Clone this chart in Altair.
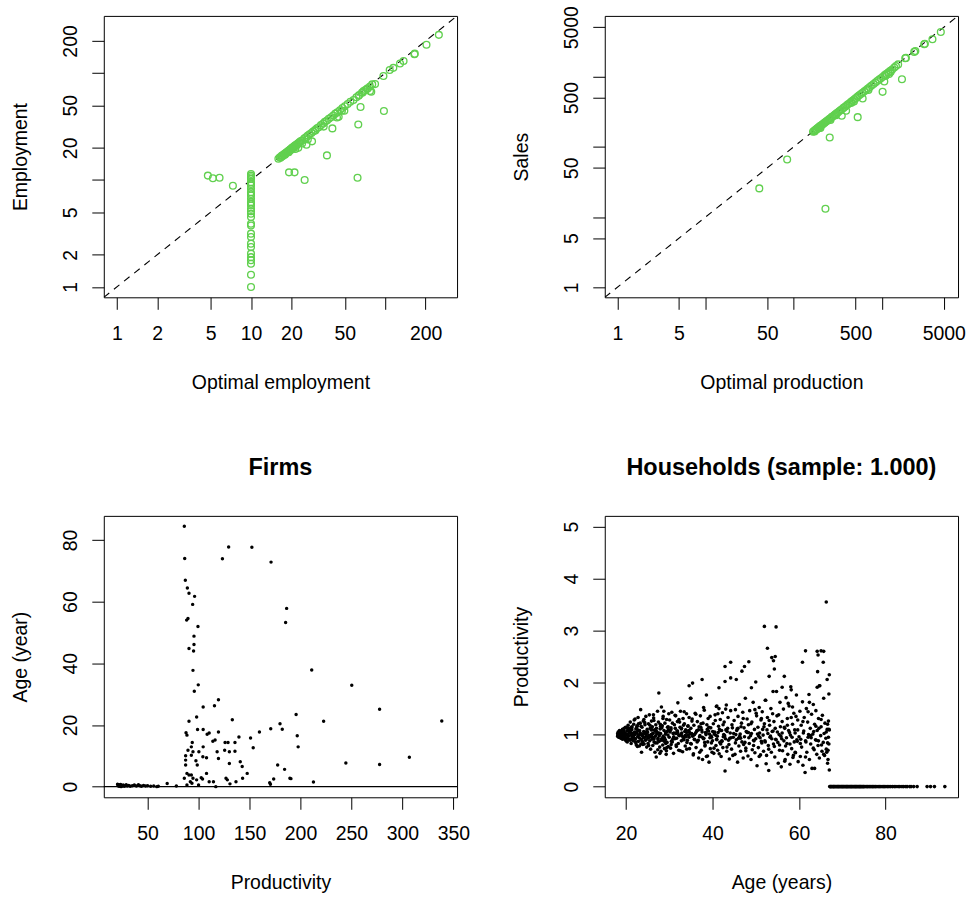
import altair as alt
import pandas as pd

FONT = "Liberation Sans"
GREEN = "#61D04F"
W, H = 354, 282

# ---------------- Firms: optimal vs. actual employment ----------------
# firms at the minimum optimal size (10)
min_size_emp = [1.0, 1.3, 1.65, 1.78, 1.9, 2.05, 2.36, 2.54, 2.93, 3.15,
                3.76, 3.9, 4.5, 4.84, 5.1, 5.39, 5.78, 6.0, 6.21, 6.68,
                7.17, 7.4, 7.7, 8.28, 8.89, 9.2, 9.55, 10.26, 10.6, 11.0,
                11.4]
opt_emp = [4.77, 5.2, 5.83, 7.33,
           16.0, 16.4, 16.8, 17.0, 17.2, 17.5, 17.8, 18.0, 18.2, 18.5,
           18.8, 19.0, 19.3, 19.6, 19.9, 20.2, 20.5, 20.8, 21.2, 21.5,
           22.0, 22.4, 17.3, 18.6, 19.5, 20.6, 21.8, 23.0, 23.5, 24.2,
           25.0, 25.8, 26.5, 27.3, 28.2, 29.0, 30.0, 31.0, 32.0, 33.2,
           34.5, 35.5, 36.8, 38.0, 39.5, 41.0, 42.5, 44.0, 46.0, 48.0,
           50.0, 52.5, 55.0, 58.0, 61.0, 64.0, 67.0, 69.0, 71.0, 74.0,
           77.0, 80.0, 84.0, 78.7, 73.0, 68.0, 63.4, 97.0, 108.0, 129.0,
           137.0, 165.0, 166.0, 203.0, 251.0, 115.0,
           19.2, 21.1, 25.1, 62.2, 36.8, 63.0, 65.5, 97.8, 40.4, 28.5,
           25.9, 21.4, 49.6, 45.0, 34.8, 30.2, 24.0, 26.5, 22.5, 43.7,
           47.6, 77.0, 16.6, 17.9, 19.1, 20.1, 21.0, 22.8]
emp = [11.0, 10.4, 10.5, 8.83,
       15.8, 16.3, 16.5, 16.9, 16.8, 17.3, 17.6, 17.5, 18.0, 18.3,
       18.4, 18.8, 19.0, 19.4, 19.5, 20.0, 20.1, 20.6, 20.9, 21.2,
       21.6, 22.0, 16.9, 18.1, 18.9, 19.8, 21.0, 22.6, 23.2, 23.5,
       24.6, 25.3, 26.1, 26.8, 27.5, 28.4, 29.4, 30.5, 31.2, 32.6,
       33.8, 35.0, 36.0, 37.4, 38.6, 40.2, 41.8, 43.0, 45.0, 47.2,
       49.0, 51.5, 54.0, 56.0, 59.5, 62.5, 65.5, 68.0, 69.5, 72.0,
       75.0, 78.5, 79.0, 67.0, 71.0, 66.0, 61.4, 94.0, 107.0, 123.0,
       130.0, 150.0, 152.0, 184.0, 228.0, 112.0,
       11.8, 11.8, 10.0, 10.5, 17.0, 33.1, 48.2, 44.2, 30.4, 23.0,
       21.4, 19.5, 44.5, 39.0, 31.6, 29.0, 22.0, 24.0, 20.0, 38.5,
       44.5, 68.0, 16.2, 17.2, 18.2, 19.3, 20.3, 22.1]

# ---------------- Firms: optimal production vs. sales ----------------
opt_prod = [40.6, 84.0, 228.0, 255.0, 529.0, 1013.0, 1679.0, 1059.0, 349.0, 602.0,
            391.0,
            165, 170, 174, 178, 182, 186, 190, 194, 198, 203,
            208, 213, 218, 224, 230, 236, 242, 248, 255, 262,
            270, 278, 286, 295, 305, 315, 326, 338, 350, 365,
            380, 395, 410, 428, 445, 465, 485, 505, 528, 550,
            575, 600, 630, 660, 690, 725, 760, 800, 840, 880,
            925, 970, 1020, 1070, 1120, 1180, 1240, 1300, 1374, 1436,
            1520, 1829, 1862, 2312, 2380, 3000, 3053, 3720, 4627,
            200, 260, 300, 450, 480, 700, 1100, 1200, 1250, 172, 181, 192]
sales = [25.5, 65.8, 13.1, 135.0, 263.0, 603.0, 912.0, 844.0, 275.0, 484.0,
         324.0,
         163, 168, 171, 176, 178, 184, 187, 191, 196, 199,
         205, 208, 215, 219, 226, 232, 236, 244, 250, 256,
         265, 271, 280, 288, 298, 306, 318, 330, 341, 356,
         370, 386, 400, 415, 434, 452, 473, 490, 515, 537,
         560, 584, 612, 640, 672, 704, 740, 776, 815, 858,
         898, 942, 990, 1040, 1085, 1140, 1200, 1250, 1340, 1400,
         1480, 1812, 1830, 2228, 2290, 2866, 2900, 3377, 4286,
         185, 240, 280, 420, 440, 640, 1020, 1080, 1150, 165, 176, 183]

# ---------------- Firms: productivity and age ----------------
firm_prod = [86.0, 86.4, 87.0, 89.0, 90.6, 96.1, 94.2, 88.3, 89.6, 99.4,
             95.5, 95.5, 90.6, 95.1, 94.5, 99.7, 95.8, 123.4, 129.5, 152.3,
             171.1, 186.4, 185.4, 211.0, 250.3, 277.6, 338.6, 222.7, 195.7, 196.8,
             197.7, 179.9, 182.1, 170.8, 159.7, 153.6, 151.0, 147.7, 143.2, 142.8,
             140.9, 139.6, 135.7, 135.7, 133.1, 136.7, 130.2, 130.2, 128.9, 126.0,
             125.6, 126.9, 128.2, 130.8, 119.5, 115.6, 104.5, 119.5, 116.2, 114.0,
             118.2, 119.5, 110.4, 108.4, 104.5, 99.0, 104.5, 104.2, 107.8, 100.3,
             97.4, 98.7, 98.1, 90.6, 87.7, 88.6, 93.8, 92.9, 94.5, 89.6,
             92.9, 87.3, 87.3, 87.3, 86.0, 88.6, 90.6, 92.9, 94.5, 91.9,
             93.5, 98.1, 100.0, 102.6, 103.9, 107.8, 110.4, 114.6, 116.9, 88.6,
             244.5, 277.6, 306.8, 212.7, 190.6, 189.6, 184.4, 177.6, 173.7, 169.8,
             170.5,
             20.5, 21.0, 21.5, 22.0, 22.5, 23.0, 23.5, 24.0, 24.5, 25.0,
             26.0, 27.0, 28.0, 29.0, 30.0, 31.5, 33.0, 35.0, 37.0, 39.0,
             41.0, 42.5, 44.0, 46.0, 48.0, 50.0, 53.0, 56.0, 59.0, 60.5,
             69.2, 78.2]
firm_age = [84.4, 74.0, 66.9, 64.4, 62.7, 61.7, 59.1, 54.0, 54.5, 51.9,
            48.8, 46.1, 44.8, 44.0, 37.7, 33.0, 30.9, 73.9, 77.7, 77.6,
            72.8, 57.8, 53.2, 37.8, 32.9, 25.1, 21.3, 21.2, 23.4, 16.5,
            12.9, 20.4, 18.6, 18.8, 17.7, 12.6, 15.8, 4.3, 2.7, 6.5,
            8.1, 16.1, 14.3, 11.5, 21.7, 1.6, 7.5, 11.3, 14.3, 14.3,
            11.8, 2.7, 2.2, 0.9, 28.2, 26.2, 25.8, 17.7, 15.1, 14.7,
            11.3, 9.1, 17.4, 17.0, 18.5, 18.5, 12.9, 9.7, 9.4, 11.3,
            8.4, 7.0, 22.6, 21.2, 17.5, 16.7, 14.3, 12.9, 11.3, 11.8,
            10.2, 10.0, 8.6, 7.0, 2.7, 4.3, 3.8, 3.8, 2.7, 1.6,
            1.1, 2.2, 0.5, 2.9, 2.5, 4.3, 1.6, 1.6, 0.0, 0.5,
            7.7, 7.2, 9.5, 1.5, 2.6, 2.7, 5.6, 7.0, 2.5, 1.3,
            0.8,
            0.8, 0.3, 0.6, 0.1, 0.5, 0.2, 0.7, 0.0, 0.4, 0.2,
            0.5, 0.1, 0.3, 0.6, 0.2, 0.4, 0.1, 0.3, 0.5, 0.2,
            0.6, 0.3, 0.1, 0.4, 0.2, 0.3, 0.1, 0.2, 0.0, 0.1,
            1.0, 0.2]

# ---------------- Households: age and productivity ----------------
hh_age_18 = [18.1, 18.1, 18.2, 18.3, 18.4, 18.5, 18.6, 18.7, 18.8, 18.9,
             19.0, 19.1, 19.2, 19.3, 19.4, 19.5, 19.6, 19.7, 19.8, 19.9,
             18.1, 18.3, 18.5, 18.7, 18.9, 19.1, 19.3, 19.5, 19.7, 19.9,
             18.2, 18.4, 18.6, 18.8, 19.0, 19.2, 19.4, 19.6, 19.8, 20.0]
hh_prod_18 = [1.02, 0.98, 1.05, 0.95, 1.01, 1.08, 0.97, 1.03, 0.93, 1.00,
              1.06, 0.96, 1.10, 0.99, 0.92, 1.04, 1.12, 0.95, 1.01, 0.90,
              0.97, 1.04, 0.99, 1.07, 1.02, 0.94, 1.00, 1.09, 0.96, 1.14,
              1.00, 0.96, 1.03, 0.98, 1.01, 0.91, 1.06, 0.99, 1.03, 0.88]

hh_age_20 = [20.1, 20.2, 20.3, 20.4, 20.5, 20.6, 20.7, 20.8, 20.9, 21.0,
             21.1, 21.2, 21.3, 21.4, 21.5, 21.6, 21.7, 21.8, 21.9, 22.0,
             22.1, 22.2, 22.3, 22.4, 22.5, 22.6, 22.7, 22.8, 22.9, 23.0,
             23.1, 23.2, 23.3, 23.4, 23.5, 23.6, 23.7, 23.8, 23.9, 24.0,
             24.1, 24.2, 24.3, 24.4, 24.5, 24.6, 24.7, 24.8, 24.9, 20.3,
             20.7, 21.1, 21.5, 21.9, 22.3, 22.7, 23.1, 23.5, 23.9, 24.3,
             24.7, 20.5, 21.3, 22.1, 22.9, 23.7, 24.5, 21.7, 22.5, 23.3]
hh_prod_20 = [0.94, 1.07, 0.86, 1.01, 1.18, 0.97, 1.12, 0.90, 1.04, 1.24,
              0.99, 0.83, 1.09, 1.15, 0.95, 1.02, 0.88, 1.20, 0.93, 1.05,
              1.30, 0.92, 1.11, 0.80, 1.03, 1.17, 0.96, 1.33, 0.87, 1.08,
              0.78, 1.00, 1.22, 1.48, 0.91, 0.66, 1.14, 0.98, 0.85, 1.26,
              1.06, 0.82, 0.95, 1.19, 0.89, 1.35, 1.01, 0.76, 1.10, 1.13,
              0.90, 1.04, 0.99, 1.28, 0.84, 1.07, 0.94, 1.16, 0.81, 1.02,
              0.97, 1.10, 0.92, 1.00, 1.21, 0.88, 1.05, 0.96, 1.12, 1.03]

hh_age_25 = [25.0, 25.1, 25.2, 25.3, 25.4, 25.5, 25.6, 25.7, 25.8, 25.9,
             26.0, 26.1, 26.2, 26.3, 26.4, 26.5, 26.6, 26.7, 26.8, 26.9,
             27.0, 27.1, 27.2, 27.3, 27.4, 27.5, 27.6, 27.7, 27.8, 27.9,
             28.0, 28.1, 28.2, 28.3, 28.4, 28.5, 28.6, 28.7, 28.8, 28.9,
             29.0, 29.1, 29.2, 29.3, 29.4, 29.5, 29.6, 29.7, 29.8, 29.9,
             25.3, 25.9, 26.5, 27.1, 27.7, 28.3, 28.9, 29.5, 25.6, 26.2,
             26.8, 27.4, 28.0, 28.6, 29.2, 29.8, 25.1, 26.0, 27.2, 28.4]
hh_prod_25 = [1.05, 0.83, 1.21, 0.95, 1.38, 0.88, 1.12, 0.72, 1.00, 1.26,
              0.91, 1.15, 0.79, 1.03, 1.32, 0.86, 1.09, 0.66, 0.97, 1.19,
              0.57, 1.06, 0.84, 1.45, 0.93, 1.24, 1.80, 0.98, 0.76, 1.11,
              1.02, 0.68, 1.53, 0.89, 1.17, 0.80, 1.35, 0.95, 1.08, 0.73,
              1.22, 0.90, 1.04, 0.62, 1.29, 0.85, 1.14, 0.99, 0.77, 1.40,
              0.98, 1.10, 0.92, 1.01, 0.87, 1.13, 0.94, 1.06, 0.96, 1.02,
              1.07, 0.90, 1.16, 0.97, 0.83, 1.09, 0.93, 1.00, 1.04, 0.91]

hh_age_30 = [30.0, 30.1, 30.3, 30.4, 30.6, 30.7, 30.9, 31.0, 31.2, 31.3,
             31.5, 31.6, 31.8, 31.9, 32.0, 32.2, 32.3, 32.5, 32.6, 32.8,
             32.9, 33.1, 33.2, 33.4, 33.5, 33.7, 33.8, 34.0, 34.1, 34.3,
             34.4, 34.6, 34.7, 34.9, 30.2, 30.8, 31.4, 32.1, 32.7, 33.3,
             33.9, 34.5, 30.5, 31.1, 31.7, 32.4, 33.0, 33.6, 34.2, 34.8,
             30.4, 31.0, 31.6, 32.2, 32.8, 33.4, 34.0, 34.6, 31.9, 33.7]
hh_prod_30 = [0.95, 1.28, 0.74, 1.10, 1.43, 0.86, 1.02, 0.64, 1.19, 0.92,
              1.36, 0.80, 1.07, 1.25, 1.61, 0.70, 0.98, 1.14, 1.45, 0.88,
              1.03, 0.67, 1.31, 0.94, 1.21, 0.78, 1.09, 1.40, 0.85, 1.16,
              0.99, 1.33, 0.73, 1.70, 1.05, 0.91, 1.12, 0.83, 1.00, 1.18,
              0.96, 1.08, 0.87, 1.03, 0.93, 1.24, 0.97, 1.06, 0.89, 1.01,
              1.13, 0.94, 1.02, 0.99, 1.11, 0.90, 1.04, 0.95, 1.07, 0.98]

hh_age_35 = [35.0, 35.1, 35.3, 35.4, 35.6, 35.7, 35.9, 36.0, 36.2, 36.3,
             36.5, 36.6, 36.8, 36.9, 37.1, 37.2, 37.4, 37.5, 37.7, 37.8,
             38.0, 38.1, 38.3, 38.4, 38.6, 38.7, 38.9, 39.0, 39.2, 39.3,
             39.5, 39.6, 39.8, 39.9, 35.2, 35.8, 36.4, 37.0, 37.6, 38.2,
             38.8, 39.4, 35.5, 36.1, 36.7, 37.3, 37.9, 38.5, 39.1, 39.7,
             34.6, 35.4, 37.6, 38.6, 35.0]
hh_prod_35 = [1.12, 0.82, 1.30, 0.97, 0.63, 1.18, 0.90, 1.41, 0.75, 1.06,
              1.25, 0.88, 0.55, 1.15, 0.98, 1.36, 0.70, 1.09, 0.52, 1.22,
              0.93, 1.47, 0.80, 1.04, 0.58, 1.19, 0.86, 1.31, 0.47, 1.01,
              0.73, 1.13, 0.95, 0.66, 1.02, 0.91, 1.08, 0.96, 1.05, 0.85,
              1.10, 0.94, 0.99, 1.03, 0.89, 1.14, 0.92, 1.00, 1.07, 0.97,
              1.94, 1.99, 2.06, 1.76, 1.70]

hh_age_40 = [40.0, 40.2, 40.3, 40.5, 40.6, 40.8, 40.9, 41.1, 41.2, 41.4,
             41.5, 41.7, 41.8, 42.0, 42.1, 42.3, 42.4, 42.6, 42.7, 42.9,
             43.0, 43.2, 43.3, 43.5, 43.6, 43.8, 43.9, 44.1, 44.2, 44.4,
             44.5, 44.7, 44.8, 40.4, 41.0, 41.6, 42.2, 42.8, 43.4, 44.0,
             44.6, 40.7, 41.3, 41.9, 42.5, 43.1, 43.7, 44.3, 44.9, 41.5,
             42.9, 44.2, 42.9, 44.2, 41.0]
hh_prod_40 = [0.88, 1.21, 0.64, 1.05, 1.38, 0.79, 1.54, 0.97, 0.70, 1.16,
              1.50, 0.85, 1.29, 0.58, 1.08, 1.42, 0.75, 1.00, 1.24, 0.30,
              0.92, 1.57, 0.68, 1.12, 1.33, 0.81, 0.53, 1.03, 1.46, 0.72,
              1.19, 0.60, 0.95, 1.01, 0.90, 1.10, 0.87, 0.98, 1.06, 0.93,
              1.13, 0.99, 1.04, 0.82, 0.96, 1.09, 0.89, 0.94, 1.02, 1.90,
              2.31, 2.39, 2.02, 2.09, 1.55]

hh_age_45 = [45.0, 45.2, 45.3, 45.5, 45.6, 45.8, 45.9, 46.1, 46.2, 46.4,
             46.5, 46.7, 46.8, 47.0, 47.1, 47.3, 47.4, 47.6, 47.7, 47.9,
             48.0, 48.2, 48.3, 48.5, 48.6, 48.8, 48.9, 49.1, 49.2, 49.4,
             49.5, 49.7, 49.8, 45.4, 46.0, 46.6, 47.2, 47.8, 48.4, 49.0,
             49.6, 45.7, 46.3, 47.5, 48.1, 45.5, 46.8, 47.4, 48.4, 49.0]
hh_prod_45 = [1.27, 0.62, 1.48, 0.90, 1.08, 0.47, 1.35, 0.78, 1.58, 1.01,
              0.68, 1.22, 0.86, 1.43, 0.55, 1.13, 0.96, 1.70, 0.74, 1.05,
              1.30, 0.59, 1.19, 0.83, 1.46, 0.98, 0.52, 1.24, 0.71, 1.62,
              0.89, 1.10, 0.65, 1.00, 0.93, 1.15, 0.81, 1.06, 0.94, 1.02,
              0.88, 1.11, 0.97, 0.85, 1.04, 2.06, 2.22, 2.31, 2.40, 1.90]

hh_age_50 = [50.0, 50.2, 50.3, 50.5, 50.6, 50.8, 50.9, 51.1, 51.2, 51.4,
             51.5, 51.7, 51.8, 52.0, 52.1, 52.3, 52.4, 52.6, 52.7, 52.9,
             53.0, 53.2, 53.3, 53.5, 53.6, 53.8, 53.9, 54.1, 54.2, 54.4,
             54.5, 54.7, 54.8, 50.4, 51.0, 51.6, 52.2, 52.8, 53.4, 54.0,
             54.6, 50.0, 52.0, 52.7, 53.1, 53.7, 54.1, 54.3, 54.5, 54.7,
             52.2, 54.0, 53.0, 51.3, 50.8]
hh_prod_50 = [0.92, 1.36, 0.40, 1.14, 0.75, 1.52, 1.03, 0.61, 1.28, 0.84,
              1.44, 0.99, 0.68, 1.21, 0.88, 1.66, 0.44, 1.09, 1.33, 0.79,
              0.31, 1.18, 0.95, 1.50, 0.66, 1.06, 1.40, 0.82, 1.25, 0.57,
              1.12, 0.90, 1.83, 1.01, 0.94, 1.10, 0.86, 1.02, 0.97, 1.07,
              0.91, 2.01, 3.08, 2.66, 2.12, 2.48, 2.42, 2.26, 2.50, 3.07,
              1.66, 1.83, 0.72, 1.31, 0.58]

hh_age_55 = [55.0, 55.2, 55.3, 55.5, 55.6, 55.8, 55.9, 56.1, 56.2, 56.4,
             56.5, 56.7, 56.8, 57.0, 57.1, 57.3, 57.4, 57.6, 57.7, 57.9,
             58.0, 58.2, 58.3, 58.5, 58.6, 58.8, 58.9, 59.1, 59.2, 59.4,
             59.5, 59.7, 59.8, 55.4, 56.0, 56.6, 57.2, 57.8, 58.4, 59.0,
             59.6, 56.6, 56.1, 58.1, 57.5, 55.7, 58.7, 59.3, 56.9, 55.1]
hh_prod_55 = [1.05, 0.45, 1.38, 0.80, 1.62, 0.97, 0.38, 1.25, 0.69, 1.49,
              0.88, 1.12, 0.52, 1.71, 0.94, 1.31, 0.62, 1.08, 1.55, 0.43,
              0.99, 1.86, 0.73, 1.20, 0.56, 1.41, 0.86, 1.03, 0.65, 1.76,
              0.90, 1.28, 0.48, 1.00, 0.92, 1.14, 0.83, 1.04, 0.95, 1.09,
              0.87, 2.12, 1.91, 1.92, 1.60, 1.15, 0.60, 1.35, 0.78, 0.85]

hh_age_60 = [60.0, 60.2, 60.3, 60.5, 60.6, 60.8, 60.9, 61.1, 61.2, 61.4,
             61.5, 61.7, 61.8, 62.0, 62.1, 62.3, 62.4, 62.6, 62.7, 62.9,
             63.0, 63.2, 63.3, 63.5, 63.6, 63.8, 63.9, 64.1, 64.2, 64.4,
             64.5, 64.7, 64.8, 65.0, 65.1, 65.3, 65.4, 65.6, 65.7, 65.9,
             66.0, 66.2, 66.3, 66.5, 66.6, 66.8, 66.9, 60.4, 61.0, 61.6,
             62.2, 62.8, 63.4, 64.0, 64.6, 65.2, 65.8, 66.4, 66.7, 66.9,
             61.5, 60.8, 64.2, 65.1, 65.7, 64.4, 65.6, 66.3, 67.0, 66.5,
             64.7, 64.2, 66.9, 63.6, 67.0, 64.3, 66.6, 66.8, 67.0, 66.7]
hh_prod_60 = [0.96, 1.45, 0.58, 1.18, 0.76, 1.63, 0.41, 1.07, 1.33, 0.27,
              0.88, 1.50, 0.66, 1.24, 0.95, 1.77, 0.52, 1.12, 0.82, 1.39,
              0.35, 1.01, 1.58, 0.71, 1.20, 0.90, 1.46, 0.62, 1.08, 0.79,
              1.31, 0.55, 1.94, 0.98, 1.15, 0.68, 1.37, 0.85, 1.70, 0.60,
              1.22, 0.93, 0.72, 1.10, 0.45, 1.26, 0.82, 0.91, 1.03, 0.86,
              1.00, 0.94, 1.06, 0.89, 1.12, 0.80, 1.02, 0.66, 0.70, 1.10,
              2.61, 2.39, 2.60, 2.61, 2.60, 2.53, 2.39, 3.55, 2.15, 2.06,
              1.94, 1.91, 1.78, 0.35, 0.32, 2.21, 1.20, 0.95, 1.09, 0.52]

# further working-age households filling the dense core
hh_age_core_a = [20.15, 20.45, 20.75, 21.05, 21.35, 21.65, 21.95, 22.25, 22.55, 22.85,
                 23.15, 23.45, 23.75, 24.05, 24.35, 24.65, 24.95, 25.25, 25.55, 25.85,
                 26.15, 26.45, 26.75, 27.05, 27.35, 27.65, 27.95, 28.25, 28.55, 28.85,
                 29.15, 29.45, 29.75, 26.35, 27.85, 24.15, 22.65, 21.25, 28.75, 29.35]
hh_prod_core_a = [1.00, 0.93, 1.06, 0.89, 1.11, 0.97, 1.03, 0.86, 1.16, 0.99,
                  1.08, 0.82, 1.01, 0.94, 1.23, 0.90, 1.04, 0.79, 1.18, 1.09,
                  0.95, 1.27, 0.84, 1.12, 0.71, 1.03, 1.20, 0.92, 1.31, 0.87,
                  1.01, 0.75, 1.15, 1.38, 0.64, 1.29, 0.77, 1.14, 1.45, 0.69]

hh_age_core_b = [30.15, 30.45, 30.75, 31.05, 31.35, 31.65, 31.95, 32.25, 32.55, 32.85,
                 33.15, 33.45, 33.75, 34.05, 34.35, 34.65, 34.95, 35.25, 35.55, 35.85,
                 36.15, 36.45, 36.75, 37.05, 37.35, 37.65, 37.95, 38.25, 38.55, 38.85,
                 39.15, 39.45, 39.75, 40.05, 40.35, 40.65, 40.95, 41.25, 41.55, 41.85,
                 42.15, 42.45, 42.75, 43.05, 43.35]
hh_prod_core_b = [1.07, 0.81, 1.22, 0.96, 1.37, 0.77, 1.04, 1.29, 0.69, 1.12,
                  0.90, 1.44, 0.98, 0.72, 1.17, 1.05, 0.83, 1.26, 0.61, 1.00,
                  1.39, 0.86, 1.09, 0.66, 1.21, 0.95, 1.52, 0.78, 1.03, 0.59,
                  1.14, 1.35, 0.84, 1.06, 0.74, 1.27, 0.91, 1.40, 0.63, 1.08,
                  0.88, 1.19, 0.97, 1.49, 0.76]

hh_age_core_c = [45.3, 45.9, 46.5, 47.1, 47.7, 48.3, 48.9, 49.5, 50.1, 50.7,
                 51.3, 51.9, 52.5, 53.1, 53.7, 54.3, 54.9, 55.5, 56.1, 56.7,
                 57.3, 57.9, 58.5, 59.1, 59.7, 60.3, 60.9, 61.5, 62.1, 62.7,
                 63.3, 63.9, 64.5, 65.1, 65.7, 66.3, 66.6, 62.4, 58.2, 49.8]
hh_prod_core_c = [0.84, 1.12, 0.93, 1.31, 0.69, 1.04, 1.21, 0.79, 1.41, 0.97,
                  0.87, 1.15, 0.60, 1.27, 0.92, 0.77, 1.36, 0.70, 1.03, 0.49,
                  1.18, 0.82, 1.53, 0.66, 1.09, 0.83, 1.25, 0.57, 1.44, 0.98,
                  0.74, 1.16, 0.88, 1.29, 0.62, 1.05, 0.84, 1.62, 1.33, 1.48]

# retired households (productivity 0)
retired_age = [67.1, 67.2, 67.3, 67.5, 67.6, 67.8, 67.9, 68.0, 68.2, 68.3,
               68.5, 68.6, 68.8, 68.9, 69.1, 69.2, 69.4, 69.5, 69.7, 69.8,
               70.0, 70.1, 70.3, 70.4, 70.6, 70.7, 70.9, 71.0, 71.2, 71.3,
               71.5, 71.6, 71.8, 71.9, 72.1, 72.2, 72.4, 72.5, 72.7, 72.8,
               73.0, 73.1, 73.3, 73.4, 73.6, 73.7, 73.9, 74.0, 74.2, 74.3,
               74.5, 74.6, 74.8, 74.9, 75.1, 75.3, 75.6, 75.8, 76.0, 76.3,
               76.5, 76.8, 77.0, 77.2, 77.5, 77.7, 78.0, 78.3, 78.6, 78.9,
               79.2, 79.5, 79.8, 80.1, 80.5, 80.8, 81.2, 81.6, 82.0, 82.4,
               82.9, 83.3, 83.8, 84.2, 84.7, 85.0, 85.6, 85.9, 86.5, 87.3,
               89.6, 90.4, 91.3, 93.7]

hh_ages, hh_prods = [], []
for a, p in [(hh_age_18, hh_prod_18), (hh_age_20, hh_prod_20), (hh_age_25, hh_prod_25),
             (hh_age_30, hh_prod_30), (hh_age_35, hh_prod_35), (hh_age_40, hh_prod_40),
             (hh_age_45, hh_prod_45), (hh_age_50, hh_prod_50), (hh_age_55, hh_prod_55),
             (hh_age_60, hh_prod_60), (hh_age_core_a, hh_prod_core_a),
             (hh_age_core_b, hh_prod_core_b), (hh_age_core_c, hh_prod_core_c)]:
    for x, y in zip(a, p, strict=True):
        hh_ages.append(x)
        hh_prods.append(y)
hh_ages += retired_age
hh_prods += [0.0] * len(retired_age)

# ---------------- helpers ----------------
LABEL_SIZE = 19.5


def make_axis(title, values, orient, hidden=(), fmt="d"):
    kw = dict(title=title, values=values, format=fmt, labelOverlap=False,
              labelFlush=False)
    if hidden:
        cond = " || ".join(f"datum.value == {v}" for v in hidden)
        kw["labelExpr"] = f"({cond}) ? '' : datum.label"
    if orient == "left":
        kw.update(labelAngle=270, labelAlign="center", labelBaseline="bottom",
                  labelPadding=11, titlePadding=30)
    else:
        kw.update(labelAngle=0, labelAlign="center", labelBaseline="top",
                  labelPadding=15, titlePadding=31)
    return alt.Axis(**kw)


def log_panel(xs, ys, dom, ticks, x_hidden, y_hidden, xtitle, ytitle):
    df = pd.DataFrame({"a": xs, "b": ys})
    diag = pd.DataFrame({"a": dom, "b": dom})
    xsc = alt.Scale(type="log", domain=dom, nice=False)
    ysc = alt.Scale(type="log", domain=dom, nice=False)
    pts = alt.Chart(df).mark_point(
        shape="circle", filled=False, color=GREEN, size=46, strokeWidth=1.35, opacity=1
    ).encode(
        x=alt.X("a:Q", scale=xsc, axis=make_axis(xtitle, ticks, "bottom", x_hidden)),
        y=alt.Y("b:Q", scale=ysc, axis=make_axis(ytitle, ticks, "left", y_hidden)),
    )
    line = alt.Chart(diag).mark_line(
        color="black", strokeDash=[7, 6], strokeWidth=1.1, clip=True
    ).encode(x=alt.X("a:Q", scale=xsc), y=alt.Y("b:Q", scale=ysc))
    return alt.layer(line, pts).properties(width=W, height=H)


p1 = log_panel(opt_emp + [10.0] * len(min_size_emp), emp + min_size_emp,
               [0.80, 343.0], [1, 2, 5, 10, 20, 50, 100, 200],
               [100], [10, 100], "Optimal employment", "Employment")
p2 = log_panel(opt_prod, sales, [0.72, 7250.0],
               [1, 5, 10, 50, 100, 500, 1000, 5000],
               [10, 100, 1000], [10, 100, 1000], "Optimal production", "Sales")


def title(text):
    return alt.TitleParams(text, font=FONT, fontSize=23.5, fontWeight="bold",
                           color="black", anchor="middle", frame="group", offset=36)


firms = pd.DataFrame({"a": firm_prod, "b": firm_age})
zero = pd.DataFrame({"b": [0.0]})
f_x = alt.Scale(domain=[7.0, 353.6], nice=False, zero=False)
f_y = alt.Scale(domain=[-3.45, 87.8], nice=False, zero=False)
p3_pts = alt.Chart(firms).mark_circle(color="black", size=12, opacity=1).encode(
    x=alt.X("a:Q", scale=f_x,
            axis=make_axis("Productivity", [50, 100, 150, 200, 250, 300, 350], "bottom")),
    y=alt.Y("b:Q", scale=f_y,
            axis=make_axis("Age (year)", [0, 20, 40, 60, 80], "left")),
)
p3_rule = alt.Chart(zero).mark_rule(color="black", strokeWidth=1.2).encode(
    y=alt.Y("b:Q", scale=f_y))
p3 = alt.layer(p3_rule, p3_pts).properties(width=W, height=H, title=title("Firms"))

hh = pd.DataFrame({"a": hh_ages, "b": hh_prods})
h_x = alt.Scale(domain=[15.1, 96.75], nice=False, zero=False)
h_y = alt.Scale(domain=[-0.205, 5.205], nice=False, zero=False)
p4 = alt.Chart(hh).mark_circle(color="black", size=13, opacity=1).encode(
    x=alt.X("a:Q", scale=h_x,
            axis=make_axis("Age (years)", [20, 40, 60, 80], "bottom")),
    y=alt.Y("b:Q", scale=h_y,
            axis=make_axis("Productivity", [0, 1, 2, 3, 4, 5], "left")),
).properties(width=W, height=H, title=title("Households (sample: 1.000)"))

chart = alt.concat(
    p1, p2, p3, p4, columns=2,
    spacing={"row": 219, "column": 148}, bounds="flush",
).properties(
    padding={"left": 10, "top": 4, "right": 5, "bottom": 5},
    background="white",
).configure_view(
    stroke="black", strokeWidth=1,
).configure_axis(
    domain=False, grid=False, ticks=True, tickSize=12, tickColor="black",
    tickWidth=1, labelFont=FONT, labelFontSize=LABEL_SIZE, labelColor="black",
    titleFont=FONT, titleFontSize=LABEL_SIZE, titleFontWeight="normal",
    titleColor="black",
)

chart.save("out.html", embed_options={"renderer": "svg", "actions": False})
